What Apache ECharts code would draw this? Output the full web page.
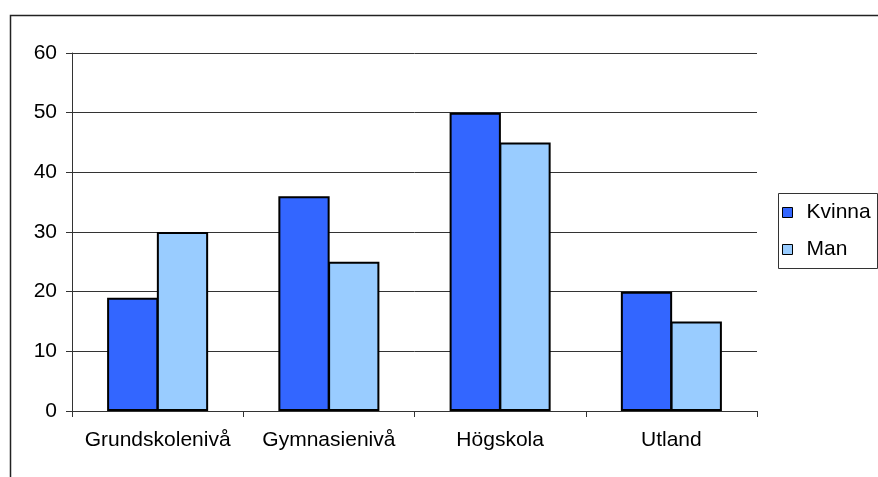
<!DOCTYPE html>
<html>
	<head>
		<meta charset="utf-8" />
		<title>Utbildningsnivå</title>
		<script src="https://cdn.jsdelivr.net/npm/echarts@6/dist/echarts.min.js"></script>
		<style>
			html, body { margin: 0; padding: 0; background: #fff; }
		</style>
	</head>
	<body>
		<div id="main" style="width: 878px;height: 477px;"></div>
	</body>
	<script type="text/javascript">
		// data
		var categories = ['Grundskolenivå', 'Gymnasienivå', 'Högskola', 'Utland'];
		var kvinna = [19, 36, 50, 20];
		var man = [30, 25, 45, 15];
		var yTicks = [0, 10, 20, 30, 40, 50, 60];

		var font = 'Liberation Sans, Arial, sans-serif';
		var chart = echarts.init(document.getElementById('main'));

		var option = {
			backgroundColor: '#fff',
			animation: false,
			textStyle: { fontFamily: font },
			graphic: [{
				// yttre ram
				type: 'rect',
				left: 8, top: 13,
				shape: { width: 900, height: 500 },
				style: { fill: 'none', stroke: '#222', lineWidth: 1.5 },
				z: 0
			}, {
				// ram runt förklaringen
				type: 'rect',
				left: 778, top: 193,
				shape: { width: 99, height: 75 },
				style: { fill: '#fff', stroke: '#333', lineWidth: 1 },
				z: 1
			}],
			grid: { left: 72, right: 121, top: 53, bottom: 66 },
			legend: {
				orient: 'vertical',
				left: 778, top: 200,
				padding: [2, 0, 0, 4],
				itemGap: 16,
				itemWidth: 10, itemHeight: 10,
				icon: 'rect',
				z: 5,
				textStyle: { fontSize: 21, color: '#000', fontFamily: font, padding: [0, 0, 0, 9] },
				itemStyle: { borderColor: '#000', borderWidth: 1 }
			},
			xAxis: {
				type: 'category',
				data: categories,
				axisLine: { lineStyle: { color: '#333', width: 1 } },
				axisTick: { show: true, length: 6, lineStyle: { color: '#333' } },
				axisLabel: { interval: 0, fontSize: 21, color: '#000', margin: 19, fontFamily: font },
				splitLine: { show: false }
			},
			yAxis: {
				type: 'value',
				min: yTicks[0], max: yTicks[yTicks.length - 1], interval: 10,
				axisLine: { show: true, lineStyle: { color: '#333', width: 1 } },
				axisTick: { show: true, length: 6, lineStyle: { color: '#333' } },
				axisLabel: { fontSize: 21, color: '#000', margin: 15, fontFamily: font },
				splitLine: { lineStyle: { color: '#333', width: 1 } }
			},
			series: [{
				name: 'Kvinna',
				type: 'bar',
				data: kvinna,
				barGap: '-3%',
				barCategoryGap: '41%',
				itemStyle: { color: '#3366FF', borderColor: '#000', borderWidth: 2 }
			}, {
				name: 'Man',
				type: 'bar',
				data: man,
				barGap: '-3%',
				barCategoryGap: '41%',
				itemStyle: { color: '#99CCFF', borderColor: '#000', borderWidth: 2 }
			}]
		};

		chart.setOption(option);
	</script>
</html>
